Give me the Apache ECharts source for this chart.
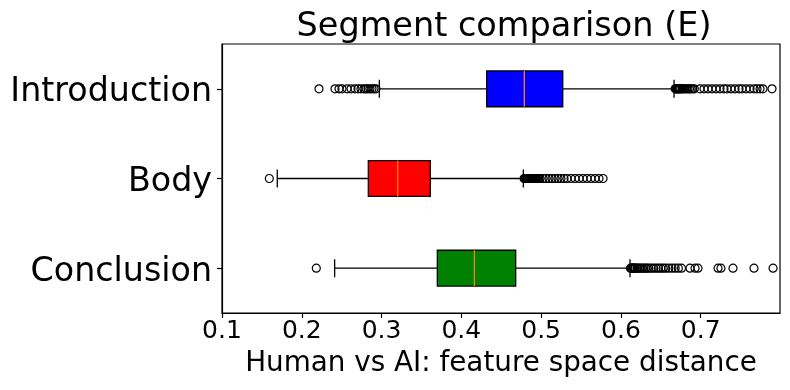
<!DOCTYPE html>
<html>
<head>
<meta charset="utf-8">
<script src="https://cdn.jsdelivr.net/npm/echarts@6/dist/echarts.min.js"></script>
<style>
html,body{margin:0;padding:0;background:#fff;}
#chart{width:790px;height:390px;}
</style>
</head>
<body>
<div id="chart"></div>
<script>
const categories = ['Introduction', 'Body', 'Conclusion'];
const boxColors = ['#0000ff', '#ff0000', '#008000'];
// [lowerWhisker, q1, median, q3, upperWhisker]
const introStats = [0.2972, 0.4318, 0.4789, 0.5271, 0.6666];
const bodyStats = [0.1693, 0.2834, 0.3202, 0.3611, 0.4777];
const conclStats = [0.2412, 0.3699, 0.4163, 0.4681, 0.6114];

const introOutliers = [0.2216, 0.2416, 0.2467, 0.2504, 0.2567, 0.2617, 0.2667, 0.2705, 0.2742, 0.2780, 0.2805, 0.2830, 0.2855, 0.2880, 0.2905, 0.2930,
  0.668, 0.669, 0.670, 0.671, 0.672, 0.673, 0.674, 0.675, 0.677, 0.678, 0.680, 0.682, 0.684, 0.686, 0.688, 0.690, 0.692,
  0.6991, 0.7042, 0.7092, 0.7142, 0.7192, 0.7242, 0.7292, 0.7330, 0.7380, 0.7430, 0.7480, 0.7518, 0.7568, 0.7618, 0.7668, 0.7706, 0.7744, 0.7781, 0.7894];
const bodyOutliers = [0.1593,
  0.4786, 0.4795, 0.4805, 0.4815, 0.4825, 0.4835, 0.4845, 0.4855, 0.4865, 0.4875, 0.4885, 0.4895, 0.4905, 0.4915, 0.4925, 0.4935, 0.4945, 0.4958, 0.4972, 0.4986,
  0.5024, 0.5061, 0.5099, 0.5136, 0.5174, 0.5212, 0.5249, 0.5287, 0.5324,
  0.5375, 0.5425, 0.5475, 0.5525, 0.5575, 0.5625, 0.5675, 0.5725, 0.5776];
const conclOutliers = [0.2182,
  0.612, 0.613, 0.614, 0.615, 0.616, 0.617, 0.618, 0.620, 0.621, 0.623, 0.625, 0.627, 0.629, 0.631, 0.633, 0.635, 0.638, 0.641, 0.644, 0.647, 0.650, 0.653, 0.656, 0.660, 0.664, 0.668, 0.672, 0.676,
  0.6866, 0.6929, 0.6966, 0.7217, 0.7254, 0.7405, 0.7668, 0.7907];

const xTickMin = 0.1, xTickMax = 0.7994, xTickStep = 0.1;

const allStats = [introStats, bodyStats, conclStats];
const allOutliers = [introOutliers, bodyOutliers, conclOutliers];

const boxData = allStats.map((s, i) => [i].concat(s));
const outlierData = [];
allOutliers.forEach((arr, i) => arr.forEach(v => outlierData.push([v, i])));

const lw = 1.3;
function renderBox(params, api) {
  const cat = api.value(0);
  const lo = api.coord([api.value(1), cat]);
  const q1 = api.coord([api.value(2), cat]);
  const md = api.coord([api.value(3), cat]);
  const q3 = api.coord([api.value(4), cat]);
  const hi = api.coord([api.value(5), cat]);
  const band = api.size([0, 1])[1];
  const bh = band * 0.4;
  const ch = band * 0.2;
  const y = lo[1];
  const stroke = {stroke: '#000', lineWidth: lw, fill: null};
  return {
    type: 'group',
    children: [
      {type: 'line', shape: {x1: lo[0], y1: y, x2: q1[0], y2: y}, style: stroke},
      {type: 'line', shape: {x1: q3[0], y1: y, x2: hi[0], y2: y}, style: stroke},
      {type: 'line', shape: {x1: lo[0], y1: y - ch / 2, x2: lo[0], y2: y + ch / 2}, style: stroke},
      {type: 'line', shape: {x1: hi[0], y1: y - ch / 2, x2: hi[0], y2: y + ch / 2}, style: stroke},
      {type: 'rect', shape: {x: q1[0], y: y - bh / 2, width: q3[0] - q1[0], height: bh},
        style: {fill: boxColors[cat], stroke: '#000', lineWidth: lw}},
      {type: 'line', shape: {x1: md[0], y1: y - bh / 2, x2: md[0], y2: y + bh / 2},
        style: {stroke: '#ff7f0e', lineWidth: lw}}
    ]
  };
}

const chart = echarts.init(document.getElementById('chart'), null, {renderer: 'canvas'});
const font = 'DejaVu Sans';
chart.setOption({
  animation: false,
  backgroundColor: '#fff',
  title: {
    text: 'Segment comparison (E)',
    left: 499, top: 5, textAlign: 'center',
    textStyle: {fontFamily: font, fontSize: 33.5, fontWeight: 'normal', color: '#000'}
  },
  grid: {left: 222, right: 10, top: 44, bottom: 77, show: true, borderColor: '#000', borderWidth: 1.2, backgroundColor: 'transparent'},
  xAxis: {
    type: 'value', min: xTickMin, max: xTickMax, interval: xTickStep,
    name: 'Human vs AI: feature space distance', nameLocation: 'middle', nameGap: 37,
    nameTextStyle: {fontFamily: font, fontSize: 27.8, color: '#000'},
    axisLine: {show: true, lineStyle: {color: '#000', width: 1.2}},
    axisTick: {show: true, inside: false, length: 5, lineStyle: {color: '#000', width: 1.2}},
    axisLabel: {fontFamily: font, fontSize: 25, color: '#000', margin: 6,
      formatter: v => v.toFixed(1), showMaxLabel: false},
    splitLine: {show: false}
  },
  yAxis: {
    type: 'category', data: categories, inverse: true,
    axisLine: {show: true, lineStyle: {color: '#000', width: 1.2}},
    axisTick: {show: true, alignWithLabel: true, length: 5, lineStyle: {color: '#000', width: 1.2}},
    axisLabel: {
      margin: 10,
      formatter: v => '{a|' + v + '}',
      rich: {a: {fontFamily: font, fontSize: 33.3, color: '#000', padding: [8, 0, 0, 0]}}
    },
    splitLine: {show: false}
  },
  series: [
    {
      type: 'custom', renderItem: renderBox, data: boxData,
      encode: {y: 0, x: [1, 2, 3, 4, 5]}, z: 2
    },
    {
      type: 'scatter', data: outlierData, symbol: 'circle', symbolSize: 8,
      itemStyle: {color: 'rgba(0,0,0,0)', borderColor: '#000', borderWidth: 1.2, opacity: 1},
      z: 3
    }
  ]
});
</script>
</body>
</html>
